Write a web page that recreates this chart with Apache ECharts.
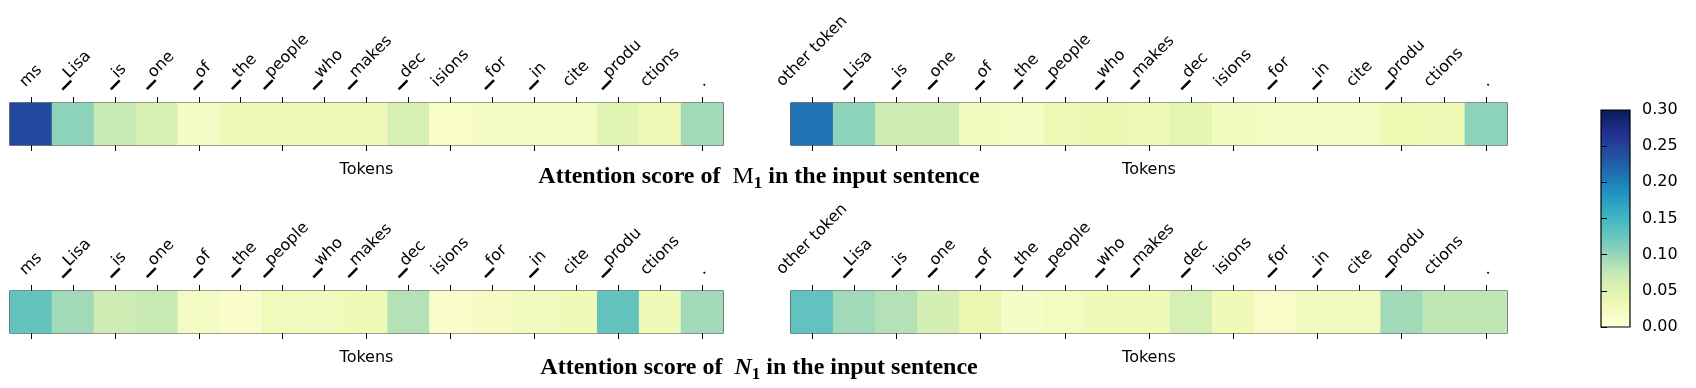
<!DOCTYPE html>
<html>
<head>
<meta charset="utf-8">
<script src="https://cdn.jsdelivr.net/npm/echarts@6/dist/echarts.min.js"></script>
<style>
html,body{margin:0;padding:0;background:#fff;}
#chart{width:1696px;height:388px;}
</style>
</head>
<body>
<div id="chart"></div>
<script>
// ---- data ----
var tokensLeft = ['ms','▁Lisa','▁is','▁one','▁of','▁the','▁people','▁who','▁makes','▁dec','isions','▁for','▁in','cite','▁produ','ctions','.'];
var tokensRight = ['other token','▁Lisa','▁is','▁one','▁of','▁the','▁people','▁who','▁makes','▁dec','isions','▁for','▁in','cite','▁produ','ctions','.'];
var scoresM1Left  = [0.245,0.105,0.075,0.057,0.018,0.030,0.030,0.030,0.032,0.060,0.015,0.022,0.022,0.022,0.048,0.035,0.095];
var scoresM1Right = [0.210,0.105,0.068,0.067,0.026,0.020,0.035,0.040,0.033,0.045,0.025,0.022,0.022,0.020,0.036,0.033,0.105];
var scoresN1Left  = [0.128,0.095,0.068,0.075,0.022,0.012,0.028,0.026,0.033,0.085,0.013,0.021,0.026,0.030,0.128,0.030,0.095];
var scoresN1Right = [0.130,0.095,0.085,0.062,0.040,0.018,0.024,0.030,0.030,0.060,0.032,0.016,0.025,0.025,0.095,0.078,0.078];
var scoreMin = 0, scoreMax = 0.30, scoreStep = 0.05;

var ylgnbu = ['#ffffd9','#edf8b1','#c7e9b4','#7fcdbb','#41b6c4','#1d91c0','#225ea8','#253494','#081d58'];

var chart = echarts.init(document.getElementById('chart'), null, {renderer:'canvas'});

var panels = [
  {tokens: tokensLeft,  scores: scoresM1Left,  left: 7,   top: 103},
  {tokens: tokensRight, scores: scoresM1Right, left: 791, top: 103},
  {tokens: tokensLeft,  scores: scoresN1Left,  left: 7,   top: 291},
  {tokens: tokensRight, scores: scoresN1Right, left: 791, top: 291}
];
var W = 716, H = 42;
var font = 'DejaVu Sans';
var labelSize = 16, labelLH = 19;

// measure label widths so each rotated label's bounding box is centred on its tick
var mctx = document.createElement('canvas').getContext('2d');
mctx.font = labelSize + 'px "' + font + '"';
function makeRich(tokens){
  var rich = {};
  tokens.forEach(function(t, k){
    var L = mctx.measureText(t).width;
    var P = Math.round((L + labelLH) / 2);
    rich['t' + k] = {fontSize: labelSize, fontFamily: font, color: '#000', lineHeight: labelLH, padding: [0, 0, P, P]};
  });
  return rich;
}

var grids = [], xAxes = [], yAxes = [], series = [];
panels.forEach(function(p, i){
  grids.push({left: p.left, top: p.top, width: W, height: H, show: true, borderColor: '#000', borderWidth: 1.2, backgroundColor: 'transparent'});
  xAxes.push({
    gridIndex: i, type: 'category', data: p.tokens, position: 'top',
    axisLine: {show: false},
    axisTick: {show: true, alignWithLabel: true, length: 6, lineStyle: {color: '#000'}},
    axisLabel: {interval: 0, rotate: -45, margin: 12, align: 'center', verticalAlign: 'middle',
      fontSize: labelSize, fontFamily: font, color: '#000',
      formatter: function(v, k){ return '{t' + k + '|' + v + '}'; },
      rich: makeRich(p.tokens)},
    splitLine: {show: false}
  });
  xAxes.push({
    gridIndex: i, type: 'category', data: p.tokens, position: 'bottom',
    axisLine: {show: false},
    axisTick: {show: true, alignWithLabel: true, length: 6, lineStyle: {color: '#000'}},
    axisLabel: {show: false},
    name: 'Tokens', nameLocation: 'middle', nameGap: 17,
    nameTextStyle: {fontSize: 16, fontFamily: font, color: '#000', verticalAlign: 'top'},
    splitLine: {show: false}
  });
  yAxes.push({gridIndex: i, type: 'category', data: [''], show: false});
  series.push({
    type: 'heatmap', xAxisIndex: i*2, yAxisIndex: i,
    data: p.scores.map(function(v, k){ return [k, 0, v]; }),
    itemStyle: {borderWidth: 0},
    emphasis: {disabled: true}
  });
});

// colorbar grid
var cbIndex = panels.length;
grids.push({
  left: 1601, top: 110, width: 29, height: 217, show: true, borderColor: '#000', borderWidth: 1.2,
  backgroundColor: {type: 'linear', x: 0, y: 1, x2: 0, y2: 0,
    colorStops: ylgnbu.map(function(c, k){ return {offset: k/(ylgnbu.length-1), color: c}; })}
});
xAxes.push({gridIndex: cbIndex, type: 'value', show: false, min: 0, max: 1});
yAxes.push({
  gridIndex: cbIndex, type: 'value', position: 'right', min: scoreMin, max: scoreMax, interval: scoreStep,
  axisLine: {show: false},
  axisTick: {show: true, length: 6, lineStyle: {color: '#000'}},
  splitLine: {show: false},
  axisLabel: {fontSize: 16, fontFamily: font, color: '#000', margin: 12,
    formatter: function(v){ return v.toFixed(2); }}
});
series.push({type: 'scatter', xAxisIndex: xAxes.length-1, yAxisIndex: cbIndex, data: [], silent: true});

var TS = 24;
var titleRich = {
  a: {fontFamily: 'Liberation Serif', fontWeight: 'bold', fontSize: TS, color: '#000', lineHeight: 28, verticalAlign: 'bottom'},
  m: {fontFamily: 'Liberation Serif', fontWeight: 'normal', fontSize: TS, color: '#000', lineHeight: 28, verticalAlign: 'bottom'},
  n: {fontFamily: 'Liberation Serif', fontWeight: 'bold', fontStyle: 'italic', fontSize: TS, color: '#000', lineHeight: 28, verticalAlign: 'bottom'},
  s: {fontFamily: 'Liberation Serif', fontWeight: 'bold', fontSize: 17, color: '#000', lineHeight: 22, verticalAlign: 'bottom', padding: [0,0,-3,0]}
};

chart.setOption({
  animation: false,
  backgroundColor: '#fff',
  grid: grids,
  xAxis: xAxes,
  yAxis: yAxes,
  visualMap: {
    type: 'continuous', show: false, min: scoreMin, max: scoreMax,
    seriesIndex: [0,1,2,3], dimension: 2,
    inRange: {color: ylgnbu}
  },
  series: series,
  graphic: [
    {type: 'text', x: 759, y: 175, style: {text: '{a|Attention score of  }{m|M}{s|1}{a| in the input sentence}', rich: titleRich, align: 'center', verticalAlign: 'middle'}},
    {type: 'text', x: 759, y: 366, style: {text: '{a|Attention score of  }{n|N}{s|1}{a| in the input sentence}', rich: titleRich, align: 'center', verticalAlign: 'middle'}}
  ]
});
</script>
</body>
</html>
